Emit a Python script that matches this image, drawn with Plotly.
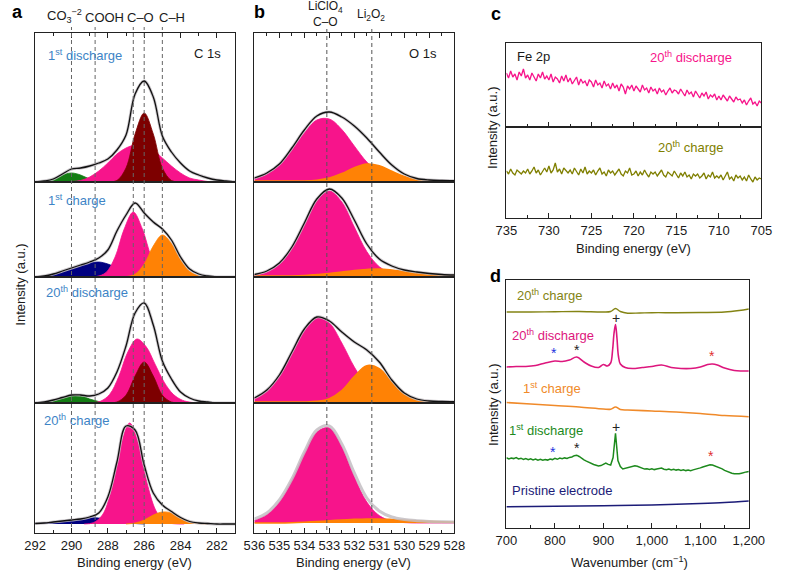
import plotly.graph_objects as go

# ====================== DATA ======================
# ---- Panel a : C 1s (binding energy, eV; intensity a.u.) ----
XA = [292.0, 291.5, 291.0, 290.5, 290.0, 289.5, 289.0, 288.5, 288.0, 287.5, 287.0,
      286.5, 286.0, 285.5, 285.0, 284.5, 284.0, 283.5, 283.0, 282.5, 282.0, 281.5, 281.0]
A_DASH = [290.0, 288.7, 286.6, 286.0, 285.0]

A1_ENV = [0, 1, 3, 8, 13, 14, 16, 19, 23, 32, 47, 88, 101, 85, 46, 30, 19, 11, 7, 4, 2, 1, 0]
A1_GREEN_X = [292.0, 291.5, 291.0, 290.5, 290.0, 289.5, 289.0, 288.5, 288.0]
A1_GREEN = [0, 1, 3, 7, 9, 7, 3, 1, 0]
A1_PINK_X = [290.0, 289.5, 289.0, 288.5, 288.0, 287.5, 287.0, 286.5, 286.0, 285.5, 285.0,
             284.5, 284.0, 283.5, 283.0, 282.5, 282.0]
A1_PINK = [0.5, 1.5, 5, 11, 19, 28, 34, 37, 36, 32, 24, 16, 9, 4, 2, 0.5, 0]
A1_MAROON_X = [288.0, 287.5, 287.0, 286.5, 286.0, 285.5, 285.0, 284.5, 284.0]
A1_MAROON = [0, 1.5, 14, 48, 69, 48, 14, 1.5, 0]

A2_ENV = [0, 1, 3, 6, 9, 12, 15, 19, 27, 46, 62, 74, 64, 55, 48, 37, 20, 8, 3, 1, 0, 0, 0]
A2_NAVY_X = [292.0, 291.5, 291.0, 290.5, 290.0, 289.5, 289.0, 288.5, 288.0, 287.5, 287.0,
             286.5, 286.0, 285.5]
A2_NAVY = [0, 1, 3, 5, 8, 11, 14, 15, 13, 9, 5, 2, 0.5, 0]
A2_PINK_X = [289.1, 288.6, 288.1, 287.6, 287.1, 286.6, 286.1, 285.6, 285.1, 284.6, 284.1]
A2_PINK = [0.1, 0.6, 4.5, 20, 48, 65, 48, 20, 4.5, 0.6, 0.1]
A2_ORANGE_X = [287.5, 287.0, 286.5, 286.0, 285.5, 285.0, 284.5, 284.0, 283.5, 283.0, 282.5]
A2_ORANGE = [0, 0.4, 2.9, 12.9, 31, 42, 33.6, 17.3, 5.7, 1.2, 0.2]

A3_ENV = [0, 1, 3, 5.5, 8, 8, 7, 9, 15, 31, 57, 90, 100, 78, 42, 24, 11, 5, 2, 1, 0, 0, 0]
A3_GREEN_X = [292.0, 291.5, 291.0, 290.5, 290.0, 289.5, 289.0, 288.5, 288.0]
A3_GREEN = [0, 0.5, 2, 5, 7.5, 7.5, 4, 1.5, 0]
A3_PINK_X = [288.9, 288.4, 287.9, 287.4, 286.9, 286.4, 285.9, 285.4, 284.9, 284.4, 283.9,
             283.4, 282.9]
A3_PINK = [0.25, 1.8, 8.6, 26.4, 51, 64, 56.5, 38.8, 20.8, 8.7, 2.8, 0.7, 0]
A3_MAROON_X = [288.0, 287.5, 287.0, 286.5, 286.0, 285.5, 285.0, 284.5, 284.0]
A3_MAROON = [0, 1, 7.8, 27, 41, 27, 7.8, 1, 0]

A4_ENV = [0.5, 1, 2, 3, 4, 5, 7, 11, 27, 62, 98, 94, 59, 31, 19, 12.5, 6.5, 2.5, 1, 0.5, 0, 0, 0]
A4_NAVY_X = [292.0, 291.5, 291.0, 290.5, 290.0, 289.5, 289.0, 288.5, 288.0, 287.5, 287.0,
             286.5, 286.0]
A4_NAVY = [0.5, 1, 2, 3, 4, 5, 6, 6, 5, 3, 1.5, 0.5, 0]
A4_PINK_X = [289.3, 288.8, 288.3, 287.8, 287.3, 286.8, 286.3, 285.8, 285.3, 284.8, 284.3, 283.8]
A4_PINK = [0, 1.3, 9, 34, 77, 101, 79, 38, 11.5, 2, 0.2, 0]
A4_ORANGE_X = [287.0, 286.5, 286.0, 285.5, 285.0, 284.5, 284.0, 283.5, 283.0, 282.5]
A4_ORANGE = [0, 1, 4, 9, 12, 11, 6, 2, 0.5, 0]

# ---- Panel b : O 1s ----
XB = [536.0, 535.5, 535.0, 534.5, 534.0, 533.5, 533.0, 532.5, 532.0, 531.5, 531.0,
      530.5, 530.0, 529.5, 529.0, 528.5, 528.0]
B_DASH = [533.1, 531.3]
B1_ENV = [3, 8, 17, 33, 51, 65, 69, 64, 55, 43, 29, 16, 7, 2.5, 1, 0.5, 0.3]
B1_PINK = [2.5, 7, 16.5, 31, 48, 61, 62, 51.5, 35, 19, 8.5, 3, 1, 0.3, 0, 0, 0]
B1_ORANGE = [0, 0, 0, 0, 0, 0.8, 2.9, 7.4, 13.3, 16.9, 15.2, 9.7, 4.4, 1.4, 0.3, 0, 0]
B2_ENV = [1.5, 5, 13, 29, 53, 77, 87, 78, 56, 32, 17, 10, 6, 4, 2.5, 1.5, 1]
B2_PINK = [0.9, 3.7, 11.5, 27.6, 51.6, 75, 85, 74, 49, 24.4, 9.3, 2.7, 0.6, 0.1, 0, 0, 0]
B2_ORANGE = [0, 0, 0, 0, 0.5, 1.5, 2.5, 4, 5.5, 6.5, 7, 6, 4.5, 3, 2, 1, 0.5]
B3_ENV = [4, 12, 27, 50, 73, 85, 81, 70, 60, 52, 40, 22, 9, 3, 1, 0.5, 0.3]
B3_PINK = [4, 11.5, 26.6, 49, 72, 84.6, 79, 59, 35, 16.6, 6.2, 1.9, 0.5, 0.1, 0, 0, 0]
B3_ORANGE = [0, 0, 0, 0, 0, 0.6, 3.3, 11.4, 25.4, 36.3, 33.2, 19.5, 7.3, 1.8, 0.3, 0, 0]
B4_ENV = [4, 10, 23, 44, 71, 93, 97, 79, 50, 25, 12, 6, 3.5, 2.3, 1.6, 1.2, 0.9]
B4_PINK = [2.6, 8.3, 21, 42.6, 69.6, 91, 95, 76, 46, 21, 7.4, 2, 0.4, 0, 0, 0, 0]
B4_ORANGE = [0, 0, 0, 0.3, 0.8, 1.5, 2.2, 3, 3.6, 4, 4, 3.5, 2.8, 2.2, 1.6, 1.2, 0.9]

# ---- Panel c : Fe 2p (735 -> 705 eV, step 0.25) ----
C_X = [735 - 0.25 * i for i in range(121)]
C_DISCHARGE = [54, 49, 56, 50, 53, 47, 55, 51, 58, 49,
               52, 47, 54, 50, 46, 53, 49, 55, 48, 51,
               47, 53, 45, 50, 48, 44, 51, 46, 52, 45,
               49, 43, 47, 50, 42, 48, 44, 46, 41, 47,
               45, 40, 47, 42, 44, 39, 46, 41, 43, 38,
               44, 39, 42, 36, 43, 40, 33, 41, 38, 42,
               36, 41, 38, 35, 42, 37, 39, 34, 40, 36,
               38, 33, 39, 35, 37, 32, 36, 39, 34, 37,
               36, 33, 38, 34, 31, 37, 33, 35, 30, 36,
               33, 29, 34, 31, 35, 28, 32, 30, 33, 27,
               31, 27, 32, 29, 26, 31, 28, 25, 30, 27,
               28, 24, 27, 22, 26, 29, 23, 25, 21, 26,
               24]
C_CHARGE = [47, 44, 49, 45, 43, 48, 46, 44, 47, 45,
            49, 44, 47, 51, 45, 48, 43, 47, 50, 46,
            52, 45, 48, 55, 46, 49, 44, 50, 47, 45,
            48, 44, 50, 46, 43, 49, 45, 51, 44, 47,
            45, 48, 43, 47, 50, 44, 46, 42, 48, 45,
            47, 43, 46, 49, 44, 42, 47, 45, 50, 43,
            44, 47, 42, 46, 43, 48, 44, 41, 46, 44,
            46, 42, 45, 48, 43, 41, 46, 44, 42, 47,
            43, 40, 45, 42, 46, 41, 43, 39, 44, 42,
            44, 40, 42, 45, 39, 43, 41, 46, 40, 42,
            40, 43, 38, 42, 46, 39, 41, 37, 43, 40,
            42, 38, 41, 37, 43, 39, 36, 41, 38, 40,
            39]

# ---- Panel d : Raman (wavenumber, cm-1; stacked intensity) ----
D20C_X = [700, 750, 800, 850, 900, 915, 925, 935, 950, 975, 1000, 1050, 1100, 1150, 1180, 1200]
D20C_Y = [216, 216, 216.3, 216.5, 216, 216.5, 219.5, 216.5, 214.8, 215, 215.3, 215.3, 215.5, 216, 217.5, 219]
D20D_X = [700, 720, 740, 760, 780, 800, 815, 830, 845, 860, 875, 890, 900, 908, 915, 919, 922,
          925, 928, 931, 935, 945, 960, 980, 1000, 1020, 1040, 1060, 1080, 1100, 1115, 1125,
          1135, 1150, 1170, 1185, 1200]
D20D_Y = [161, 161.5, 161.5, 162.5, 165, 167, 166.5, 168, 171, 166, 162, 160.5, 163.5, 162, 165,
          178, 195, 203.5, 190, 172, 164, 160.5, 159.5, 160.5, 161.5, 163, 160.5, 159.5, 159.5,
          161, 163.5, 164, 163, 160, 157.5, 157, 157]
D1C_X = [700, 750, 800, 850, 900, 915, 925, 935, 950, 1000, 1050, 1100, 1150, 1200]
D1C_Y = [125.5, 124, 122.5, 121, 119, 118.8, 121, 118.5, 118, 117, 116, 114.5, 112.5, 111.3]
D1D_X = [700 + 5 * i for i in range(101)]
D1D_Y = [70.2, 69.1, 70.0, 69.4, 70.5, 69.0, 69.8, 68.6, 69.5, 68.3,
         69.2, 68.1, 68.9, 67.8, 68.6, 67.7, 68.5, 67.9, 69.0, 68.4,
         69.6, 68.7, 69.9, 69.2, 70.1, 69.5, 70.6, 71.0, 72.3, 72.8,
         71.5, 69.4, 68.2, 66.9, 65.6, 64.4, 63.5, 62.8, 62.0, 62.4,
         63.8, 64.9, 63.6, 63.0, 70.5, 94.7, 67.5, 61.5, 59.0, 59.6,
         60.3, 61.0, 61.6, 62.3, 61.8, 60.6, 59.7, 58.9, 59.3, 58.6,
         59.2, 58.4, 59.0, 59.7, 59.9, 58.8, 58.2, 58.9, 58.1, 58.7,
         57.9, 58.5, 57.6, 58.2, 57.4, 58.0, 57.3, 58.1, 58.6, 59.2,
         60.1, 61.0, 61.9, 62.8, 63.2, 62.9, 62.0, 61.4, 60.5, 59.1,
         57.6, 56.4, 55.5, 54.8, 54.3, 53.9, 54.2, 54.8, 55.6, 56.1,
         56.4]
DPR_X = [700, 800, 900, 1000, 1100, 1150, 1200]
DPR_Y = [21.3, 21.7, 22.3, 23, 24.5, 25.5, 27]
# marker annotations in panel d (x in cm-1, y in stacked intensity units)
PLUS_X = [925, 925]
PLUS_Y = [210, 101]
STAR_X = [799, 845, 1124, 796, 845, 1121]
STAR_Y = [175, 178, 172, 76, 80, 72]
STAR_C = ["#2233dd", "#222222", "#e03030", "#2233dd", "#222222", "#e03030"]

# ====================== STYLE ======================
W, H = 788, 573
FONT = "Liberation Sans, Arial, Helvetica, sans-serif"
AX = "#222222"
PINK = "#f7148b"
MAROON = "#7d0000"
GREEN = "#137d13"
NAVY = "#000080"
ORANGE = "#ff8205"
LBLUE = "#3d84c6"
OLIVE = "#7f7f00"
D_OLIVE = "#848414"
D_PINK = "#dd167d"
D_ORANGE = "#f08a2a"
D_GREEN = "#1d8a1d"
D_NAVY = "#1c1c78"


def fx(px):
    return px / W


def fy(py):
    return 1 - py / H


layout = {}


def add_axes(i, xdom, ydom, xr, yr, xkw=None):
    xn = "xaxis" if i == 1 else f"xaxis{i}"
    yn = "yaxis" if i == 1 else f"yaxis{i}"
    base = dict(showline=True, linecolor=AX, linewidth=1.2, mirror=True, showgrid=False,
                zeroline=False, showticklabels=False, ticks="", fixedrange=True)
    xa = dict(base, domain=[fx(xdom[0]), fx(xdom[1])], range=xr,
              anchor="y" if i == 1 else f"y{i}")
    if xkw:
        xa.update(xkw)
    ya = dict(base, domain=[fy(ydom[1]), fy(ydom[0])], range=yr,
              anchor="x" if i == 1 else f"x{i}")
    layout[xn] = xa
    layout[yn] = ya


def tick_kw(dtick, tick0, minor, labels, side="bottom", fmt=None):
    d = dict(ticks="inside", ticklen=5, tickwidth=1, tickcolor=AX, dtick=dtick, tick0=tick0,
             showticklabels=labels, side=side,
             tickfont=dict(size=13, color="#1a1a1a", family=FONT),
             minor=dict(ticks="inside", ticklen=3, tickwidth=1, tickcolor=AX, dtick=minor))
    if fmt:
        d["tickformat"] = fmt
    return d


YDOM = [(33, 182), (182, 277), (277, 403), (403, 533)]
A_YR = [[0, 149], [0, 95], [0, 126], [-9, 121]]
B_YR = [[-1, 148], [-1, 94], [-1, 125], [-10, 120]]

for k in range(4):
    if k == 0:
        kwa = tick_kw(2, 282, 1, False, side="top")
        kwb = tick_kw(1, 528, 0.5, False, side="top")
    elif k == 3:
        kwa = tick_kw(2, 282, 1, True)
        kwb = tick_kw(1, 528, 0.5, True)
    else:
        kwa, kwb = None, None
    add_axes(1 + k, (25, 232), YDOM[k], [292, 281], A_YR[k], kwa)
    add_axes(5 + k, (252, 459), YDOM[k], [536, 528], B_YR[k], kwb)

add_axes(9, (513, 777), (43, 127), [735, 705], [0, 84], tick_kw(5, 705, 2.5, False))
add_axes(10, (513, 777), (127, 218), [735, 705], [0, 91], tick_kw(5, 705, 2.5, True))
add_axes(11, (513, 764), (280, 528), [700, 1200], [0, 248], tick_kw(100, 700, 50, True, fmt=","))

fig = go.Figure()


def ax(i):
    return ("x" if i == 1 else f"x{i}"), ("y" if i == 1 else f"y{i}")


def area(i, x, y, color, lw=0.8):
    xa, ya = ax(i)
    fig.add_trace(go.Scatter(x=x, y=y, xaxis=xa, yaxis=ya, mode="lines",
                             line=dict(color=color, width=lw, shape="spline", smoothing=1.0),
                             fill="tozeroy", fillcolor=color, hoverinfo="skip"))


def envelope(i, x, y, black=True):
    xa, ya = ax(i)
    fig.add_trace(go.Scatter(x=x, y=y, xaxis=xa, yaxis=ya, mode="lines",
                             line=dict(color="rgba(195,190,195,0.85)", width=3, shape="spline"),
                             hoverinfo="skip"))
    if black:
        fig.add_trace(go.Scatter(x=x, y=y, xaxis=xa, yaxis=ya, mode="lines",
                                 line=dict(color="#111111", width=1.3, shape="spline"),
                                 hoverinfo="skip"))


def line(i, x, y, color, width=1.5, shape="spline"):
    xa, ya = ax(i)
    fig.add_trace(go.Scatter(x=x, y=y, xaxis=xa, yaxis=ya, mode="lines",
                             line=dict(color=color, width=width, shape=shape),
                             hoverinfo="skip"))


# panel a
area(1, A1_GREEN_X, A1_GREEN, GREEN)
area(1, A1_PINK_X, A1_PINK, PINK)
area(1, A1_MAROON_X, A1_MAROON, MAROON)
envelope(1, XA, A1_ENV)
area(2, A2_NAVY_X, A2_NAVY, NAVY)
area(2, A2_PINK_X, A2_PINK, PINK)
area(2, A2_ORANGE_X, A2_ORANGE, ORANGE)
envelope(2, XA, A2_ENV)
area(3, A3_GREEN_X, A3_GREEN, GREEN)
area(3, A3_PINK_X, A3_PINK, PINK)
area(3, A3_MAROON_X, A3_MAROON, MAROON)
envelope(3, XA, A3_ENV)
area(4, A4_NAVY_X, A4_NAVY, NAVY)
area(4, A4_PINK_X, A4_PINK, PINK)
area(4, A4_ORANGE_X, A4_ORANGE, ORANGE)
envelope(4, XA, A4_ENV)

# panel b
B_SETS = [(B1_ENV, B1_PINK, B1_ORANGE), (B2_ENV, B2_PINK, B2_ORANGE),
          (B3_ENV, B3_PINK, B3_ORANGE), (B4_ENV, B4_PINK, B4_ORANGE)]
for i, (env, pk, orr) in enumerate(B_SETS):
    area(5 + i, XB, pk, PINK)
    area(5 + i, XB, orr, ORANGE, lw=1.6)
    envelope(5 + i, XB, env, black=(i < 3))

# panel c
line(9, C_X, C_DISCHARGE, PINK, 1.3, "linear")
line(10, C_X, C_CHARGE, OLIVE, 1.3, "linear")

# panel d
line(11, D20C_X, D20C_Y, D_OLIVE, 1.4)
line(11, D20D_X, D20D_Y, D_PINK, 1.6)
line(11, D1C_X, D1C_Y, D_ORANGE, 1.6)
line(11, D1D_X, D1D_Y, D_GREEN, 1.5, "linear")
line(11, DPR_X, DPR_Y, D_NAVY, 1.5)

# dashed reference lines
shapes = []
for e in A_DASH:
    shapes.append(dict(type="line", xref="x", yref="paper", x0=e, x1=e, y0=fy(527), y1=fy(27),
                       line=dict(color="#666666", width=1, dash="4px,3px"), layer="above"))
for e in B_DASH:
    shapes.append(dict(type="line", xref="x5", yref="paper", x0=e, x1=e, y0=fy(530), y1=fy(27),
                       line=dict(color="#555555", width=1, dash="4px,3px"), layer="above"))

ann = []


def txt(t, px, py, size=13, color="#1a1a1a", xanchor="center", angle=0, bold=False):
    a = dict(text=f"<b>{t}</b>" if bold else t, x=fx(px), y=fy(py), xref="paper",
             yref="paper", showarrow=False, xanchor=xanchor, yanchor="middle",
             font=dict(size=size, color=color, family=FONT))
    if angle:
        a["textangle"] = angle
    ann.append(a)


txt("a", 7, 12, 18, "#000", bold=True)
txt("b", 257, 12, 18, "#000", bold=True)
txt("c", 502, 14, 18, "#000", bold=True)
txt("d", 502, 276, 18, "#000", bold=True)
txt("CO<sub>3</sub><sup>−2</sup>", 55, 16, 13)
txt("COOH", 97, 17, 13)
txt("C–O", 134, 17, 13)
txt("C–H", 167, 17, 13)
txt("C 1s", 203, 53, 13)
txt("O 1s", 427, 53, 13)
txt("LiClO<sub>4</sub>", 326, 7, 12)
txt("C–O", 326, 22, 12)
txt("Li<sub>2</sub>O<sub>2</sub>", 373, 15, 12)
txt("1<sup>st</sup> discharge", 36, 55, 13, LBLUE, "left")
txt("1<sup>st</sup> charge", 36, 200, 13, LBLUE, "left")
txt("20<sup>th</sup> discharge", 34, 292, 13, LBLUE, "left")
txt("20<sup>th</sup> charge", 32, 420, 13, LBLUE, "left")
txt("Intensity (a.u.)", 9, 285, 13, angle=-90)
txt("Intensity (a.u.)", 499, 128, 13, angle=-90)
txt("Intensity (a.u.)", 499, 405, 13, angle=-90)
txt("Binding energy (eV)", 128, 562, 13)
txt("Binding energy (eV)", 355, 562, 13)
txt("Binding energy (eV)", 645, 248, 13)
txt("Wavenumber (cm<sup>−1</sup>)", 640, 562, 13)
txt("Fe 2p", 522, 57, 13, xanchor="left")
txt("20<sup>th</sup> discharge", 704, 57, 13, PINK)
txt("20<sup>th</sup> charge", 704, 147, 13, OLIVE)
txt("20<sup>th</sup> charge", 522, 295, 13, D_OLIVE, "left")
txt("20<sup>th</sup> discharge", 517, 335, 13, D_PINK, "left")
txt("1<sup>st</sup> charge", 528, 388, 13, D_ORANGE, "left")
txt("1<sup>st</sup> discharge", 514, 430, 13, D_GREEN, "left")
txt("Pristine electrode", 517, 490, 13, D_NAVY, "left")

for xv, yv in zip(PLUS_X, PLUS_Y):
    ann.append(dict(text="+", x=xv, y=yv, xref="x11", yref="y11", showarrow=False,
                    font=dict(size=14, color="#222", family=FONT)))
for xv, yv, c in zip(STAR_X, STAR_Y, STAR_C):
    ann.append(dict(text="*", x=xv, y=yv, xref="x11", yref="y11", showarrow=False,
                    font=dict(size=14, color=c, family=FONT)))

fig.update_layout(width=W, height=H, margin=dict(l=0, r=0, t=0, b=0, pad=0),
                  paper_bgcolor="white", plot_bgcolor="white", showlegend=False,
                  font=dict(family=FONT, size=13, color="#1a1a1a"),
                  shapes=shapes, annotations=ann, **layout)

# remove the default 8px page margin so the figure fills the 788x573 window exactly
fig.write_html("out.html", config={"displayModeBar": False},
               post_script="document.body.style.margin='0';document.body.style.overflow='hidden';")
